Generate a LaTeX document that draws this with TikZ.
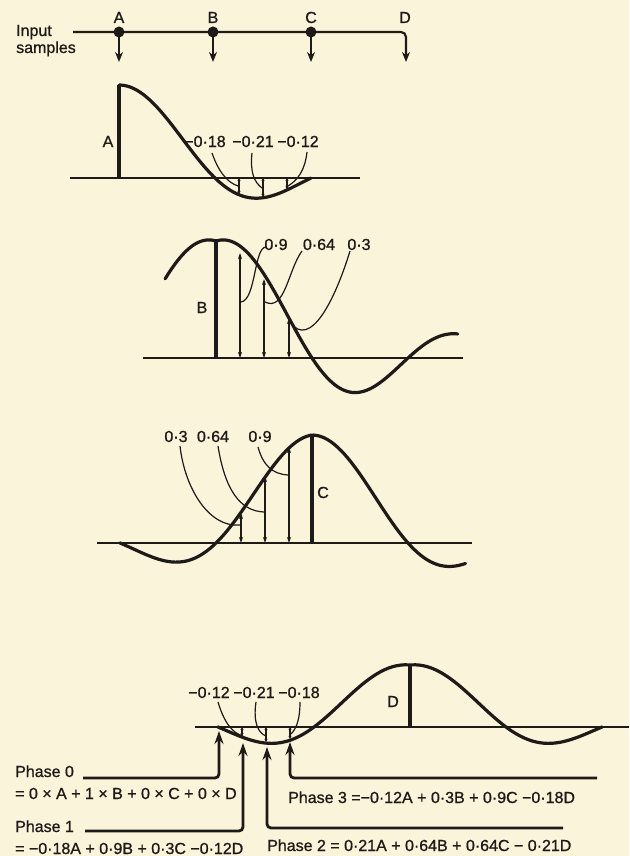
\documentclass[tikz,border=0pt]{standalone}
\usepackage{fontspec}
\setmainfont[UprightFeatures={FakeBold=0.9}]{Liberation Sans}
\usetikzlibrary{arrows.meta}
\definecolor{paper}{RGB}{250,244,218}
\definecolor{ink}{RGB}{30,26,24}
\begin{document}
\begin{tikzpicture}[x=1pt,y=-1pt,
  declare function={sinc(\t)=sin(180*\t)/(pi*\t);},
  every node/.style={font=\fontsize{16}{17}\selectfont, text=ink, inner sep=0pt},
  baseln/.style={draw=ink, line width=2pt},
  wave/.style={draw=ink, line width=3.2pt, line join=round, line cap=round},
  bar/.style={draw=ink, line width=4pt},
  val/.style={draw=ink, line width=1.3pt, {Stealth[length=6pt,width=4pt]}-{Stealth[length=6pt,width=4pt]}},
  tinyval/.style={draw=ink, line width=1.1pt, {Stealth[length=3pt,width=3pt]}-{Stealth[length=3pt,width=3pt]}},
  leader/.style={draw=ink, line width=1.2pt},
  feed/.style={draw=ink, line width=2.2pt, -{Stealth[length=10pt,width=8pt]}},
  phasearrow/.style={draw=ink, line width=2.8pt, rounded corners=4pt, -{Stealth[length=13pt,width=9pt]}},
  dot/.style={circle, fill=ink, minimum size=11pt, inner sep=0pt},
]
\fill[paper] (0,0) rectangle (629,856);
\useasboundingbox (0,0) rectangle (629,856);

% ---------- input samples ----------
\node[anchor=base west] (inp) at (16,36) {Input};
\node[anchor=base west] (smp) at (16,53) {samples};
\coordinate (ls) at (73,32);
\coordinate (dcorner) at (406,32);
\coordinate (tD) at (406,62);
\draw[feed, rounded corners=5pt] (ls) -- (dcorner) -- (tD);
\coordinate (tA) at (119,62);
\coordinate (tB) at (213,62);
\coordinate (tC) at (311,62);
\node[dot] (dA) at (119,32) {};
\node[dot] (dB) at (213,32) {};
\node[dot] (dC) at (311,32) {};
\draw[feed] (dA.center) -- (tA);
\draw[feed] (dB.center) -- (tB);
\draw[feed] (dC.center) -- (tC);
\node[anchor=base] (lA) at (119,23) {A};
\node[anchor=base] (lB) at (213,23) {B};
\node[anchor=base] (lC) at (311,23) {C};
\node[anchor=base] (lD) at (405,23) {D};

% ---------- panel A ----------
\coordinate (a0) at (70,178);
\coordinate (a1) at (360,178);
\draw[baseln] (a0) -- (a1);
\coordinate (aB) at (119,178);
\coordinate (aT) at (119,85);
\draw[bar] (aB) -- (aT);
\draw[wave] plot[domain=0.002:2, samples=80, variable=\t] ({119+96*\t},{178-93*sinc(\t)});
\draw[tinyval] (239,178) -- (239,194);
\draw[tinyval] (263,178) -- (263,197);
\draw[tinyval] (287,178) -- (287,189.5);
\node[anchor=base] (nA) at (108,147) {A};
\node[anchor=base] (vA1) at (205,147) {−0·18};
\node[anchor=base] (vA2) at (253,147) {−0·21};
\node[anchor=base] (vA3) at (298,147) {−0·12};
\draw[leader] (212,153) .. controls (218,170) and (226,182) .. (238,186);
\draw[leader] (252,153) .. controls (250,172) and (254,182) .. (262,188);
\draw[leader] (307,152) .. controls (305,170) and (298,180) .. (288,186);

% ---------- panel B ----------
\coordinate (b0) at (143,358);
\coordinate (b1) at (463,358);
\draw[baseln] (b0) -- (b1);
\draw[bar] (216,358) -- (216,241);
\draw[wave] plot[domain=-0.53:2.52, samples=120, variable=\t] ({216+96*\t},{358-117*sinc(\t)*(1+0.25*abs(\t))});
\draw[val] (240,358) -- (240,253);
\draw[val] (264,358) -- (264,279);
\draw[val] (289,358) -- (289,318);
\node[anchor=base] (nB) at (202,313) {B};
\node[anchor=base] (vB1) at (276,250) {0·9};
\node[anchor=base] (vB2) at (319,250) {0·64};
\node[anchor=base] (vB3) at (359,250) {0·3};
\draw[leader] (266,247) .. controls (254,247) and (256,300) .. (241,302);
\draw[leader] (302,251) .. controls (288,270) and (285,312) .. (265,302);
\draw[leader] (350,251) .. controls (335,300) and (310,350) .. (290,322);

% ---------- panel C ----------
\coordinate (c0) at (97,543);
\coordinate (c1) at (472,543);
\draw[baseln] (c0) -- (c1);
\draw[bar] (312,543) -- (312,435);
\draw[wave] plot[domain=-2.003:1.6, samples=101, variable=\t] ({312+96*\t},{543-108*sinc(\t)*(1-0.065*(abs(\t)-\t))});
\draw[val] (241,543) -- (241,513);
\draw[val] (265,543) -- (265,476);
\draw[val] (289,543) -- (289,447);
\node[anchor=base] (nC) at (323,498) {C};
\node[anchor=base] (vC1) at (176,442) {0·3};
\node[anchor=base] (vC2) at (213,442) {0·64};
\node[anchor=base] (vC3) at (260,442) {0·9};
\draw[leader] (180,446) .. controls (185,490) and (210,528) .. (240,525);
\draw[leader] (218,446) .. controls (225,490) and (240,511) .. (264,512);
\draw[leader] (258,447) .. controls (263,465) and (272,474) .. (288,475);

% ---------- panel D ----------
\coordinate (e0) at (195,727);
\coordinate (e1) at (629,727);
\draw[baseln] (e0) -- (e1);
\draw[bar] (410,727) -- (410,665);
\draw[wave] plot[domain=-2.003:2.003, samples=100, variable=\t] ({410+96*\t},{727-62*sinc(\t)*(1+0.15*abs(\t))});
\draw[tinyval] (242,727) -- (242,736);
\draw[tinyval] (266,727) -- (266,742);
\draw[tinyval] (290,727) -- (290,739);
\node[anchor=base] (nD) at (393,707) {D};
\node[anchor=base] (vD1) at (209,698) {−0·12};
\node[anchor=base] (vD2) at (254,698) {−0·21};
\node[anchor=base] (vD3) at (299,698) {−0·18};
\draw[leader] (218,702) .. controls (224,722) and (232,733) .. (243,736);
\draw[leader] (256,702) .. controls (253,722) and (258,733) .. (266,736);
\draw[leader] (300,702) .. controls (300,718) and (297,728) .. (291,734);

% ---------- phases ----------
\node[anchor=base west] (ph0) at (15,777) {Phase 0};
\node[anchor=base west] (eq0) at (15,799) {= 0 × A + 1 × B + 0 × C + 0 × D};
\node[anchor=base west] (ph1) at (15,832) {Phase 1};
\node[anchor=base west] (eq1) at (15,854) {= −0·18A + 0·9B + 0·3C −0·12D};
\node[anchor=base west] (ph3) at (288,803) {Phase 3 =−0·12A + 0·3B + 0·9C −0·18D};
\node[anchor=base west] (ph2) at (267,851) {Phase 2 = 0·21A + 0·64B + 0·64C − 0·21D};

\coordinate (p0s) at (83,778);  \coordinate (p0c) at (219,778); \coordinate (p0t) at (219,731);
\coordinate (p1s) at (85,831);  \coordinate (p1c) at (243,831); \coordinate (p1t) at (243,743);
\coordinate (p2s) at (563,828); \coordinate (p2c) at (267,828); \coordinate (p2t) at (267,747);
\coordinate (p3s) at (597,778); \coordinate (p3c) at (290,778); \coordinate (p3t) at (290,742);
\draw[phasearrow] (p0s) -- (p0c) -- (p0t);
\draw[phasearrow] (p1s) -- (p1c) -- (p1t);
\draw[phasearrow] (p2s) -- (p2c) -- (p2t);
\draw[phasearrow] (p3s) -- (p3c) -- (p3t);
\end{tikzpicture}
\end{document}
